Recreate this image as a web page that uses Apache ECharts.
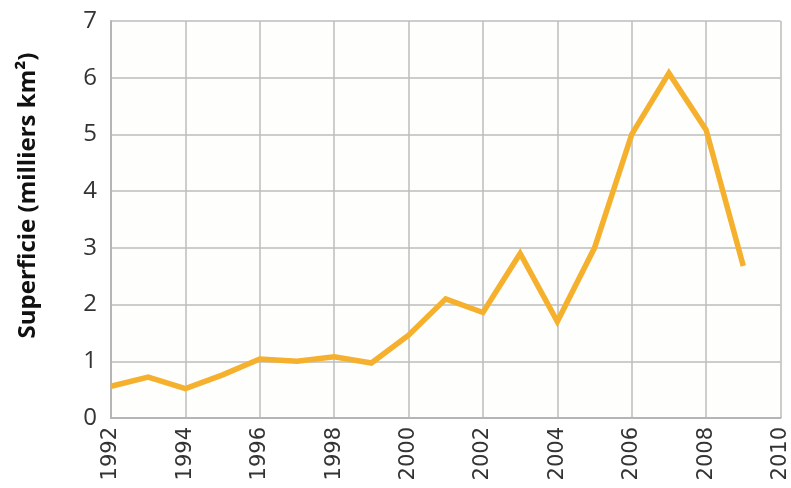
<!DOCTYPE html>
<html>
<head>
<meta charset="utf-8">
<script src="https://cdn.jsdelivr.net/npm/echarts@6/dist/echarts.min.js"></script>
<style>
  html, body { margin: 0; padding: 0; background: #fff; }
  #chart { width: 791px; height: 488px; }
</style>
</head>
<body>
<div id="chart"></div>
<script>
  // années et superficie (milliers km²)
  var years = [1992, 1993, 1994, 1995, 1996, 1997, 1998, 1999, 2000, 2001, 2002, 2003, 2004, 2005, 2006, 2007, 2008, 2009]
  var superficie = [0.56, 0.72, 0.52, 0.76, 1.04, 1.0, 1.08, 0.97, 1.46, 2.1, 1.86, 2.9, 1.7, 3.0, 5.0, 6.08, 5.08, 2.68]
  var yName = 'Superficie (milliers km²)'

  var chart = echarts.init(document.getElementById('chart'))
  var option = {
    animation: false,
    grid: {
      left: 111,
      right: 9,
      top: 21,
      bottom: 70,
      show: true,
      backgroundColor: '#fefefc',
      borderWidth: 0
    },
    xAxis: {
      type: 'value',
      min: 1992,
      max: 2010,
      interval: 2,
      axisLine: { show: true, lineStyle: { color: '#b5b5b5', width: 2 } },
      axisTick: { show: false },
      splitLine: { show: true, lineStyle: { color: '#bdbdbd', width: 1.5 } },
      axisLabel: {
        rotate: 90,
        margin: 9,
        color: '#333',
        fontSize: 21,
        fontFamily: 'DejaVu Sans',
        formatter: function (v) { return String(v) }
      }
    },
    yAxis: {
      type: 'value',
      min: 0,
      max: 7,
      interval: 1,
      name: yName,
      nameLocation: 'middle',
      nameGap: 71,
      nameTextStyle: {
        color: '#111',
        fontSize: 24,
        fontWeight: 'bold',
        fontFamily: 'Open Sans',
        padding: [0, 0, 0, 48] // décale le titre vers le haut
      },
      axisLine: { show: true, lineStyle: { color: '#b5b5b5', width: 2 } },
      axisTick: { show: false },
      splitLine: { show: true, lineStyle: { color: '#bdbdbd', width: 1.5 } },
      axisLabel: {
        margin: 14,
        color: '#333',
        fontSize: 24,
        fontFamily: 'Open Sans'
      }
    },
    series: [
      {
        type: 'line',
        data: years.map(function (y, i) { return [y, superficie[i]] }),
        showSymbol: false,
        lineStyle: { color: '#f5b12d', width: 5.5, join: 'miter' },
        itemStyle: { color: '#f5b12d' }
      }
    ]
  }
  chart.setOption(option)
</script>
</body>
</html>
